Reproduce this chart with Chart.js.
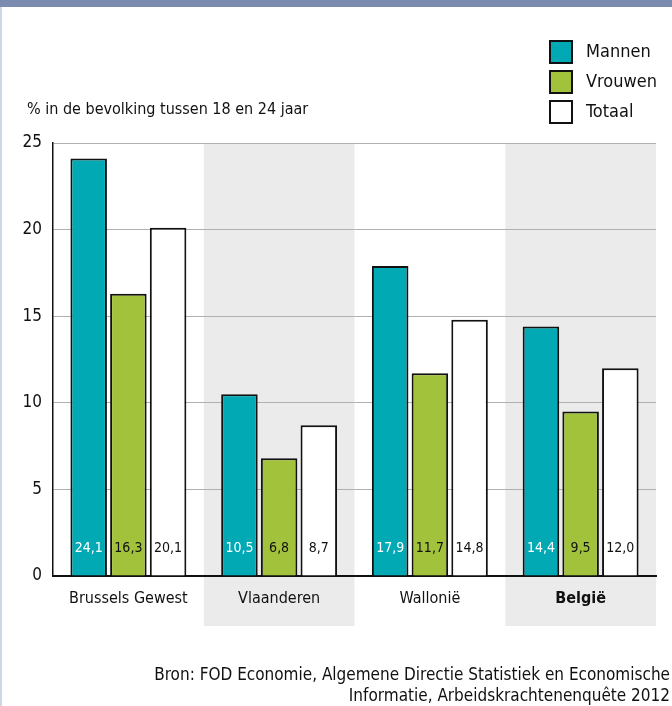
<!DOCTYPE html>
<html>
<head>
<meta charset="utf-8">
<script src="https://cdn.jsdelivr.net/npm/chart.js@4"></script>
<style>
  html, body { margin: 0; padding: 0; background: #fff; }
  #wrap { width: 672px; height: 706px; position: relative; }
</style>
</head>
<body>
<div id="wrap"><canvas id="myChart" width="672" height="706"></canvas></div>
<script>
var regions = ['Brussels Gewest', 'Vlaanderen', 'Wallonië', 'België'];
var mannen = [24.1, 10.5, 17.9, 14.4];
var vrouwen = [16.3, 6.8, 11.7, 9.5];
var totaal = [20.1, 8.7, 14.8, 12.0];
var yTicks = [0, 5, 10, 15, 20, 25];

var FONT = "'Liberation Sans Narrow', 'DejaVu Sans Condensed', 'Roboto', sans-serif";

// grey bands, frame and top stripe behind the chart
var backdrop = {
  id: 'backdrop',
  beforeDraw: function (chart) {
    var ctx = chart.ctx;
    var x = chart.scales.x;
    var area = chart.chartArea;
    var half = (area.right - area.left) / regions.length / 2;
    ctx.save();
    ctx.fillStyle = '#ebebeb';
    for (var i = 1; i < regions.length; i += 2) {
      var cx = x.getPixelForValue(i);
      ctx.fillRect(cx - half, area.top, half * 2, 626 - area.top);
    }
    ctx.fillStyle = '#7b8bb0';
    ctx.fillRect(0, 0, chart.width, 7);
    ctx.fillStyle = '#cfd6e6';
    ctx.fillRect(0, 7, 2, chart.height - 7);
    ctx.restore();
  }
};

// numbers inside the bars, legend, axis title and source
var extras = {
  id: 'extras',
  afterDatasetsDraw: function (chart) {
    var ctx = chart.ctx;
    var area = chart.chartArea;
    ctx.save();
    ctx.font = '14px ' + FONT;
    ctx.textAlign = 'center';
    ctx.textBaseline = 'middle';
    chart.data.datasets.forEach(function (ds, di) {
      chart.getDatasetMeta(di).data.forEach(function (bar, i) {
        ctx.fillStyle = di === 0 ? '#ffffff' : '#111111';
        ctx.fillText(ds.data[i].toFixed(1).replace('.', ','), bar.x, area.bottom - 28);
      });
    });

    // legend
    ctx.font = '18px ' + FONT;
    ctx.textAlign = 'left';
    chart.data.datasets.forEach(function (ds, di) {
      var y = 41 + di * 30;
      ctx.fillStyle = ds.backgroundColor;
      ctx.fillRect(550, y, 22, 22);
      ctx.lineWidth = 2;
      ctx.strokeStyle = '#111';
      ctx.strokeRect(550, y, 22, 22);
      ctx.fillStyle = '#111';
      ctx.fillText(ds.label, 586, y + 11);
    });

    // axis title
    ctx.font = '16px ' + FONT;
    ctx.fillText('% in de bevolking tussen 18 en 24 jaar', 27, 110);

    // source
    ctx.font = '17px ' + FONT;
    ctx.textAlign = 'right';
    ctx.fillText('Bron: FOD Economie, Algemene Directie Statistiek en Economische', 670, 676);
    ctx.fillText('Informatie, Arbeidskrachtenenquête 2012', 670, 697);
    ctx.restore();
  }
};

new Chart('myChart', {
  type: 'bar',
  data: {
    labels: regions,
    datasets: [
      { label: 'Mannen', data: mannen, backgroundColor: '#00a9b4' },
      { label: 'Vrouwen', data: vrouwen, backgroundColor: '#a3c23c' },
      { label: 'Totaal', data: totaal, backgroundColor: '#ffffff' }
    ]
  },
  options: {
    responsive: false,
    animation: false,
    layout: { padding: { left: 0, right: 16, top: 143, bottom: 0 } },
    datasets: {
      bar: {
        borderColor: '#111111',
        borderWidth: 2,
        categoryPercentage: 0.79,
        barPercentage: 0.92
      }
    },
    plugins: {
      legend: { display: false },
      tooltip: { enabled: false }
    },
    scales: {
      x: {
        afterFit: function (scale) { scale.height = 130; },
        grid: { display: false, drawTicks: false },
        border: { display: true, color: '#111', width: 2 },
        ticks: {
          padding: 13,
          color: '#111',
          font: function (c) {
            return { family: FONT, size: 16, weight: c.index === 3 ? 'bold' : 'normal' };
          }
        }
      },
      y: {
        min: 0,
        max: 25,
        afterFit: function (scale) { scale.width = 53; },
        afterBuildTicks: function (scale) {
          scale.ticks = yTicks.map(function (v) { return { value: v }; });
        },
        grid: { color: '#b0b0b0', lineWidth: 1, drawTicks: false },
        border: { display: true, color: '#111', width: 1.5 },
        ticks: {
          padding: 11,
          color: '#111',
          font: { family: FONT, size: 17 }
        }
      }
    }
  },
  plugins: [backdrop, extras]
});
</script>
</body>
</html>
